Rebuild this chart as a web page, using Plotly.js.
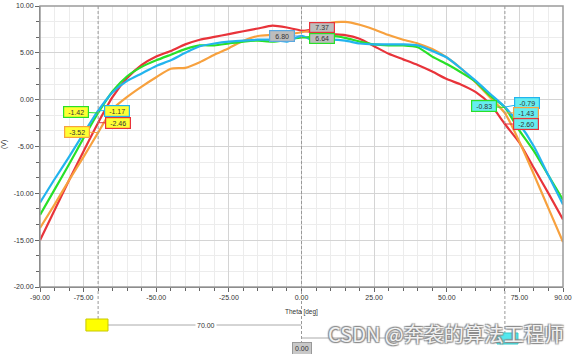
<!DOCTYPE html>
<html>
<head>
<meta charset="utf-8">
<script src="https://cdn.plot.ly/plotly-3.0.1.min.js"></script>
<style>html,body{margin:0;padding:0;background:#fff;}#chart{width:576px;height:354px;}</style>
</head>
<body>
<div id="chart"></div>
<script>
const theta = [-90,-85,-80,-75,-70,-65,-60,-55,-50,-45,-40,-35,-30,-25,-20,-15,-10,-5,0,5,10,15,20,25,30,35,40,45,50,55,60,65,70,75,80,85,90];
const redVals = [-15.0,-11.8,-8.6,-5.5,-2.46,0.3,2.3,3.7,4.6,5.2,5.9,6.4,6.7,7.0,7.3,7.6,7.9,7.7,7.37,7.2,7.0,6.9,6.5,5.7,4.9,4.3,3.7,3.0,2.2,1.6,0.8,-0.5,-2.60,-4.6,-7.3,-10.0,-12.8];
const orangeVals = [-13.7,-11.2,-8.6,-6.1,-3.52,-1.0,0.3,1.4,2.4,3.3,3.4,4.0,4.8,5.5,6.3,6.8,6.9,7.0,7.2,7.6,8.2,8.3,8.0,7.5,6.9,6.4,6.0,5.4,4.5,3.3,1.8,0.2,-1.43,-4.5,-8.0,-11.6,-15.2];
const greenVals = [-12.3,-9.6,-6.9,-4.1,-1.42,0.9,2.5,3.5,4.2,4.8,5.4,5.8,5.8,6.0,6.2,6.3,6.2,6.4,6.64,6.7,6.8,6.6,6.2,5.9,5.8,5.8,5.6,4.6,3.8,2.9,1.9,0.4,-0.83,-3.3,-5.5,-8.1,-10.7];
const cyanVals = [-11.0,-8.5,-6.1,-3.6,-1.17,0.8,2.0,2.8,3.6,4.2,5.0,5.7,6.0,6.2,6.3,6.4,6.4,6.2,6.80,6.2,6.4,6.3,6.0,5.9,5.9,5.9,5.8,5.2,4.5,3.3,2.0,0.6,-0.79,-2.6,-5.0,-8.1,-11.2];
const xTicks = [-90,-75,-50,-25,0,25,50,75,90];
const yTicks = [-20,-15,-10,-5,0,5,10];
const markerLeft = -70, markerCenter = 0, markerRight = 70;
const sliderLabel = "70.00", centerLabel = "0.00";

const colors = {red:'#e8333a', orange:'#f7a13e', green:'#28e028', cyan:'#22b4ee'};
const series = [
  {name:'red', y:redVals, c:colors.red},
  {name:'orange', y:orangeVals, c:colors.orange},
  {name:'green', y:greenVals, c:colors.green},
  {name:'cyan', y:cyanVals, c:colors.cyan}
];
const traces = series.map(s => ({x:theta, y:s.y, type:'scatter', mode:'lines', line:{color:s.c, width:2.2, shape:'spline', smoothing:0.6}, hoverinfo:'skip'}));

const L=40, R=13, T=6, B=67, W=576, H=354;
const pw = W-L-R, ph = H-T-B;
function px(p){ return (p - L)/pw; }
function py(p){ return (H-B - p)/ph; }

function valAt(arr, t){ return arr[theta.indexOf(t)]; }
const F = {family:'Liberation Sans, Arial, sans-serif', size:7, color:'#333'};
function lab(t, arr, ax, ay, bg, bc, h){
  const v = valAt(arr, t);
  return {x:t, y:v, xref:'x', yref:'y', text:v.toFixed(2), showarrow:true, arrowhead:0, arrowwidth:1, arrowcolor:bc, ax:ax, ay:ay,
    width:22, height:h || 8, bgcolor:bg, bordercolor:bc, borderwidth:1.2, borderpad:1, font:F};
}
const yel = '#ffff33', cy = '#66eef0', gr = '#bdbdbd';
const annotations = [
  lab(markerLeft, greenVals, -22, -1, yel, colors.green),
  lab(markerLeft, cyanVals, 19, 0, yel, colors.cyan),
  lab(markerLeft, redVals, 20, 0, yel, colors.red),
  lab(markerLeft, orangeVals, -21, -1, yel, colors.orange),
  lab(markerRight, greenVals, -21, -1, cy, colors.green),
  lab(markerRight, cyanVals, 22, -4, cy, colors.cyan),
  lab(markerRight, orangeVals, 21, -0.5, cy, colors.orange),
  lab(markerRight, redVals, 21, 0, cy, colors.red),
  lab(markerCenter, cyanVals, -20, 0, gr, '#5aa8e0'),
  lab(markerCenter, redVals, 20, -3, gr, colors.red, 7),
  lab(markerCenter, greenVals, 20, 1, gr, colors.green, 7),
  {x:0.5, y:py(312), xref:'paper', yref:'paper', xanchor:'center', yanchor:'middle', text:'Theta [deg]', showarrow:false, font:{family:F.family, size:6.5, color:'#333'}},
  {x:-33, y:py(325), xref:'x', yref:'paper', xanchor:'center', yanchor:'middle', text:sliderLabel, showarrow:false, bgcolor:'#fff', font:F},
  {x:0, y:py(348), xref:'x', yref:'paper', xanchor:'center', yanchor:'middle', text:centerLabel, showarrow:false, bgcolor:'#c8c8c8', bordercolor:'#999', borderwidth:1, borderpad:2, font:F},
  {x:px(4), y:py(145), xref:'paper', yref:'paper', xanchor:'center', yanchor:'middle', text:'(V)', textangle:-90, showarrow:false, font:F},
  {x:px(446), y:py(333), xref:'paper', yref:'paper', xanchor:'center', yanchor:'middle', text:'CSDN @奔袭的算法工程师', showarrow:false,
   font:{family:'Noto Sans CJK SC, sans-serif', size:20, color:'rgba(255,255,255,0.9)', shadow:'1px 1px 1px #888, -1px -1px 1px #888, 1px -1px 1px #888, -1px 1px 1px #888'}}
];

const dash = {color:'#999', width:1, dash:'3px,2px'};
const shapes = [
  {type:'line', xref:'x', yref:'paper', x0:markerLeft, x1:markerLeft, y0:1, y1:py(319), line:dash},
  {type:'line', xref:'x', yref:'paper', x0:markerCenter, x1:markerCenter, y0:1, y1:py(343), line:dash},
  {type:'line', xref:'x', yref:'paper', x0:markerRight, x1:markerRight, y0:1, y1:py(334), line:dash},
  {type:'line', xref:'x', yref:'paper', x0:-66.6, x1:0, y0:py(325), y1:py(325), line:{color:'#aaa', width:1}},
  {type:'rect', xref:'x', yref:'paper', x0:-74.2, x1:-66.6, y0:py(319), y1:py(331), fillcolor:'#ffff00', line:{color:'#c8c800', width:1}},
  {type:'line', xref:'x', yref:'paper', x0:0, x1:67.3, y0:py(338), y1:py(338), line:{color:'#aaa', width:1}},
  {type:'rect', xref:'x', yref:'paper', x0:67.3, x1:74.5, y0:py(333), y1:py(344), fillcolor:'#55e8ee', line:{color:'#3cc', width:1}},
  {type:'rect', xref:'paper', yref:'paper', x0:0, x1:1, y0:0, y1:1, line:{color:'#9a9a9a', width:1.5}, fillcolor:'rgba(0,0,0,0)', layer:'above'}
];

const layout = {
  width:W, height:H, margin:{l:L, r:R, t:T, b:B}, showlegend:false,
  paper_bgcolor:'#fff', plot_bgcolor:'#fff',
  xaxis:{range:[-90,90], tickvals:xTicks, ticktext:xTicks.map(v=>v.toFixed(2)), showgrid:true, gridcolor:'#d4d4d4', gridwidth:1,
    zeroline:false, showline:true, linecolor:'#666', linewidth:1, ticks:'outside', ticklen:4, tickcolor:'#666', tickfont:F,
    minor:{dtick:5, tick0:0, showgrid:true, gridcolor:'#ececec', ticks:'outside', ticklen:3, tickcolor:'#666'}},
  yaxis:{range:[-20,10], tickvals:yTicks, ticktext:yTicks.map(v=>v.toFixed(2)), showgrid:true, gridcolor:'#d4d4d4', gridwidth:1,
    zeroline:false, showline:true, linecolor:'#666', linewidth:1, ticks:'outside', ticklen:4, tickcolor:'#666', tickfont:F,
    minor:{dtick:5/3, tick0:0, showgrid:true, gridcolor:'#ececec', ticks:'outside', ticklen:3, tickcolor:'#666'}},
  annotations:annotations, shapes:shapes
};
Plotly.newPlot('chart', traces, layout, {displayModeBar:false, staticPlot:true});
</script>
</body>
</html>
